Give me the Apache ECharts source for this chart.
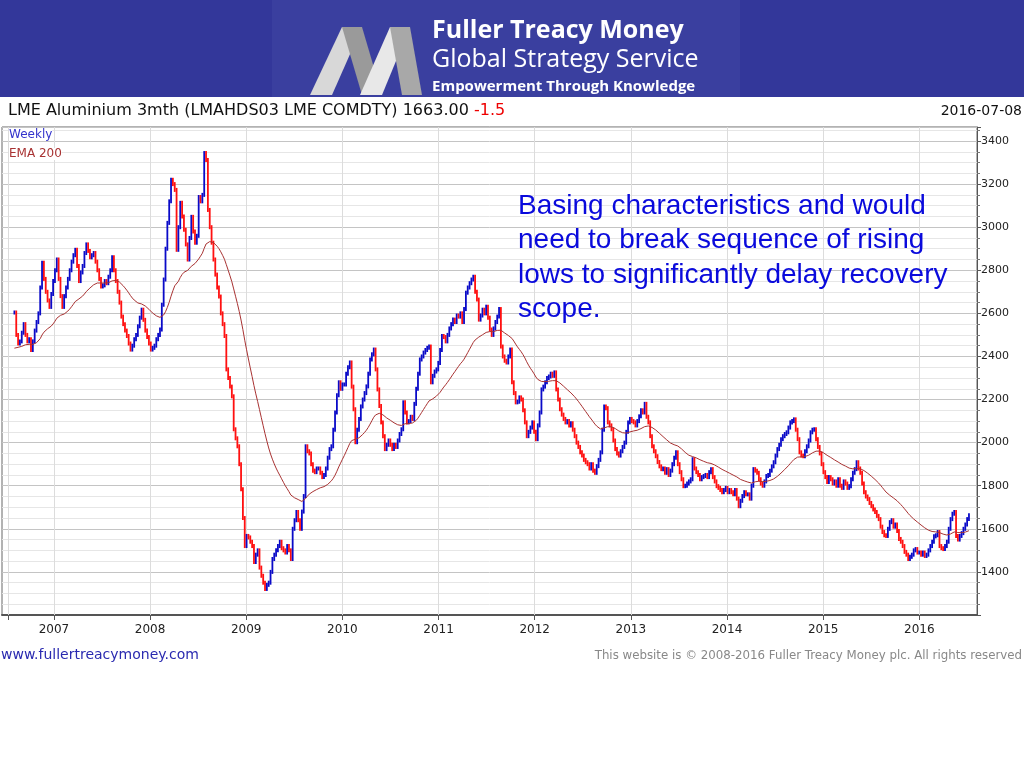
<!DOCTYPE html>
<html><head><meta charset="utf-8">
<script src="https://cdn.jsdelivr.net/npm/echarts@6/dist/echarts.min.js"></script>
<style>html,body{margin:0;padding:0;background:#fff}#c{width:1024px;height:768px}</style>
</head><body><div id="c"></div>
<script>
// Weekly closes, LME Aluminium 3mth (mid-2006 .. 2016-07-08)
const close2006 = [2604,2500,2460,2470,2510,2550,2500,2470,2480,2430,2470,2520,2560,2600,2720,2835,2760,2700,2660,2630,2690,2750,2800,2850,2760];
const close2007 = [2680,2630,2680,2720,2760,2800,2840,2870,2895,2820,2750,2790,2820,2880,2920,2890,2860,2870,2880,2840,2800,2760,2725,2730,2750,2740,2770,2800,2860,2800,2750,2700,2650,2585,2550,2520,2495,2460,2432,2450,2480,2500,2540,2580,2617,2570,2520,2490,2460,2432,2440,2450];
const close2008 = [2480,2500,2525,2640,2757,2900,3020,3120,3220,3200,3173,2895,3000,3113,3050,2988,2920,2850,2950,3048,2980,2928,2960,3140,3120,3150,3344,3312,3080,3000,2928,2850,2780,2720,2678,2600,2550,2495,2340,2300,2260,2215,2062,2020,1983,1900,1784,1650,1520,1567,1560,1540];
const close2009 = [1520,1446,1480,1500,1420,1382,1350,1321,1340,1350,1400,1460,1480,1500,1520,1540,1510,1500,1490,1520,1500,1460,1600,1640,1678,1640,1600,1680,1752,1983,1960,1950,1900,1870,1863,1880,1880,1860,1840,1850,1880,1930,1970,1983,2060,2140,2220,2280,2250,2270,2270,2320];
const close2010 = [2350,2372,2260,2155,2002,2060,2110,2168,2200,2230,2261,2320,2386,2410,2432,2340,2247,2170,2094,2030,1970,1990,2010,1990,1970,1990,1980,2010,2040,2062,2187,2140,2094,2100,2120,2110,2180,2250,2320,2386,2400,2418,2430,2440,2446,2280,2310,2330,2340,2370,2430,2495];
const close2011 = [2490,2470,2500,2530,2550,2571,2560,2590,2585,2600,2560,2620,2696,2720,2740,2757,2770,2700,2664,2571,2590,2617,2600,2631,2580,2525,2500,2530,2560,2585,2620,2446,2400,2380,2372,2400,2432,2280,2230,2187,2190,2210,2200,2150,2094,2030,2050,2070,2094,2050,2016,2080];
const close2012 = [2140,2247,2260,2280,2300,2307,2320,2310,2326,2247,2200,2155,2130,2110,2094,2100,2080,2090,2060,2030,2000,1980,1955,1940,1920,1909,1900,1880,1900,1870,1860,1891,1920,1955,2060,2168,2160,2094,2080,2062,2010,1970,1950,1940,1960,1980,2000,2050,2094,2110,2100,2094];
const close2013 = [2080,2100,2122,2150,2140,2180,2120,2094,2030,1983,1960,1937,1910,1890,1877,1880,1860,1877,1850,1870,1900,1930,1955,1900,1863,1830,1798,1800,1810,1820,1830,1923,1880,1863,1850,1830,1840,1845,1850,1840,1863,1877,1840,1820,1798,1790,1780,1770,1780,1790,1770,1780];
const close2014 = [1770,1760,1780,1740,1705,1730,1752,1770,1760,1760,1740,1800,1877,1870,1860,1830,1810,1800,1820,1845,1850,1870,1890,1909,1940,1970,1990,2016,2030,2040,2048,2070,2094,2100,2108,2060,2016,1955,1940,1937,1960,1983,2010,2048,2060,2062,2016,1980,1950,1900,1863,1840];
const close2015 = [1817,1840,1830,1810,1820,1800,1830,1800,1790,1820,1810,1790,1798,1830,1860,1877,1909,1880,1860,1810,1770,1750,1738,1720,1705,1690,1678,1660,1645,1610,1585,1570,1567,1600,1631,1640,1610,1620,1590,1553,1540,1520,1493,1480,1460,1470,1480,1500,1506,1490,1490,1480];
const close2016 = [1490,1474,1480,1500,1520,1540,1565,1570,1585,1520,1510,1506,1520,1540,1600,1645,1670,1678,1567,1550,1567,1580,1600,1620,1645,1663];
const yearTicks = [2007,2008,2009,2010,2011,2012,2013,2014,2015,2016];
const lastWeek = 2016 + 189/366; // 2016-07-08
const emaSeed = 2430, emaAlpha = 2/41;

const closes = [].concat(close2006,close2007,close2008,close2009,close2010,close2011,close2012,close2013,close2014,close2015,close2016);
const N = closes.length;
const wk = 7/365.25;
const bars = [], ema = [];
let e = emaSeed;
for (let i=0;i<N;i++){
  const t = lastWeek - (N-1-i)*wk;
  const o = i===0 ? closes[0] : closes[i-1];
  bars.push([t,o,closes[i]]);
  e = e + emaAlpha*(closes[i]-e);
  ema.push([t, +e.toFixed(1)]);
}

const chart = echarts.init(document.getElementById('c'));
const F = 'DejaVu Sans';
chart.setOption({
  animation:false,
  backgroundColor:'#fff',
  grid:{left:2,right:47,top:127,bottom:153,show:true,borderColor:'#666',borderWidth:1,backgroundColor:'#fff'},
  xAxis:{type:'value',min:2006.46,max:2016.6,
    axisLine:{show:true,lineStyle:{color:'#555',width:2}},
    axisTick:{show:true,customValues:[2006.52].concat(yearTicks),length:5,inside:false,lineStyle:{color:'#555'}},
    axisLabel:{customValues:yearTicks,formatter:v=>String(Math.round(v)),color:'#222',fontFamily:F,fontSize:12,margin:9},
    splitLine:{show:false}},
  yAxis:{type:'value',position:'right',min:1200,max:3465,interval:200,
    axisLine:{show:true,lineStyle:{color:'#555'}},
    axisTick:{show:true,length:4,lineStyle:{color:'#555'}},
    minorTick:{show:true,splitNumber:4,length:3,lineStyle:{color:'#777'}},
    axisLabel:{color:'#222',fontFamily:F,fontSize:11,margin:4,showMinLabel:false,showMaxLabel:false,
      formatter:v=>(v>=1400&&v<=3400)?String(v):''},
    splitLine:{show:true,lineStyle:{color:'#c4c4c4',width:1}},
    minorSplitLine:{show:true,lineStyle:{color:'#e6e6e6',width:1}}},
  series:[
    {type:'custom',data:bars,z:3,
     renderItem:(params,api)=>{
       const t=api.value(0),o=api.value(1),c=api.value(2);
       const p1=api.coord([t,o]),p2=api.coord([t,c]);
       const top=Math.min(p1[1],p2[1])-2, h=Math.abs(p1[1]-p2[1])+4;
       return {type:'rect',shape:{x:p1[0]-0.9,y:top,width:1.8,height:h},
         style:{fill:c>=o?'#0a0ac8':'#ff1010'}};
     },
     markLine:{silent:true,symbol:['none','none'],label:{show:false},z:1,
       lineStyle:{color:'#dcdcdc',type:'solid',width:1},
       data:[2006.52].concat(yearTicks).map(v=>({xAxis:v}))}},
    {type:'line',data:ema,showSymbol:false,z:4,lineStyle:{color:'#a83232',width:1},silent:true}
  ],
  graphic:[
    {type:'rect',shape:{x:0,y:0,width:1024,height:97},style:{fill:'#33379a'},z:-1},
    {type:'rect',shape:{x:272,y:0,width:468,height:97},style:{fill:'#3a3f9f'},z:-1},
    {type:'polygon',shape:{points:[[310,95],[342,27],[362,27],[332,95]]},style:{fill:'#d8d8d8'}},
    {type:'polygon',shape:{points:[[342,27],[362,27],[382,95],[362,95]]},style:{fill:'#9a9a9a'}},
    {type:'polygon',shape:{points:[[360,95],[390,27],[410,27],[382,95]]},style:{fill:'#e8e8e8'}},
    {type:'polygon',shape:{points:[[390,27],[410,27],[422,95],[402,95]]},style:{fill:'#a8a8a8'}},
    {type:'text',left:432,top:18,style:{text:'Fuller Treacy Money',fill:'#fff',font:'bold 25px "Open Sans"'}},
    {type:'text',left:432,top:47,style:{text:'Global Strategy Service',fill:'#fff',font:'25px "Open Sans"'}},
    {type:'text',left:432,top:79,style:{text:'Empowerment Through Knowledge',fill:'#fff',font:'bold 15px "Open Sans"'}},
    {type:'text',left:8,top:103,style:{rich:{a:{fill:'#111',font:'16px "DejaVu Sans"'},b:{fill:'#e00',font:'16px "DejaVu Sans"'}},
      text:'{a|LME Aluminium 3mth (LMAHDS03 LME COMDTY) 1663.00 }{b|-1.5}'}},
    {type:'text',right:2,top:104,style:{text:'2016-07-08',fill:'#111',font:'14px "DejaVu Sans"'}},
    {type:'text',left:9,top:129,z:20,style:{text:'Weekly',fill:'#3333cc',font:'12px "DejaVu Sans"',backgroundColor:'#fff'}},
    {type:'text',left:9,top:148,z:20,style:{text:'EMA 200',fill:'#a83232',font:'12px "DejaVu Sans"',backgroundColor:'#fff'}},
    {type:'text',left:518,top:189,z:10,style:{text:'Basing characteristics and would\nneed to break sequence of rising\nlows to significantly delay recovery\nscope.',fill:'#0a0adc',font:'28px "Liberation Sans"',lineHeight:34.5}},
    {type:'text',left:1,top:648,style:{text:'www.fullertreacymoney.com',fill:'#2a2ab0',font:'14px "DejaVu Sans"'}},
    {type:'text',right:2,top:650,style:{text:'This website is \u00a9 2008-2016 Fuller Treacy Money plc. All rights reserved',fill:'#888',font:'11.8px "DejaVu Sans"'}}
  ]
});
</script></body></html>
